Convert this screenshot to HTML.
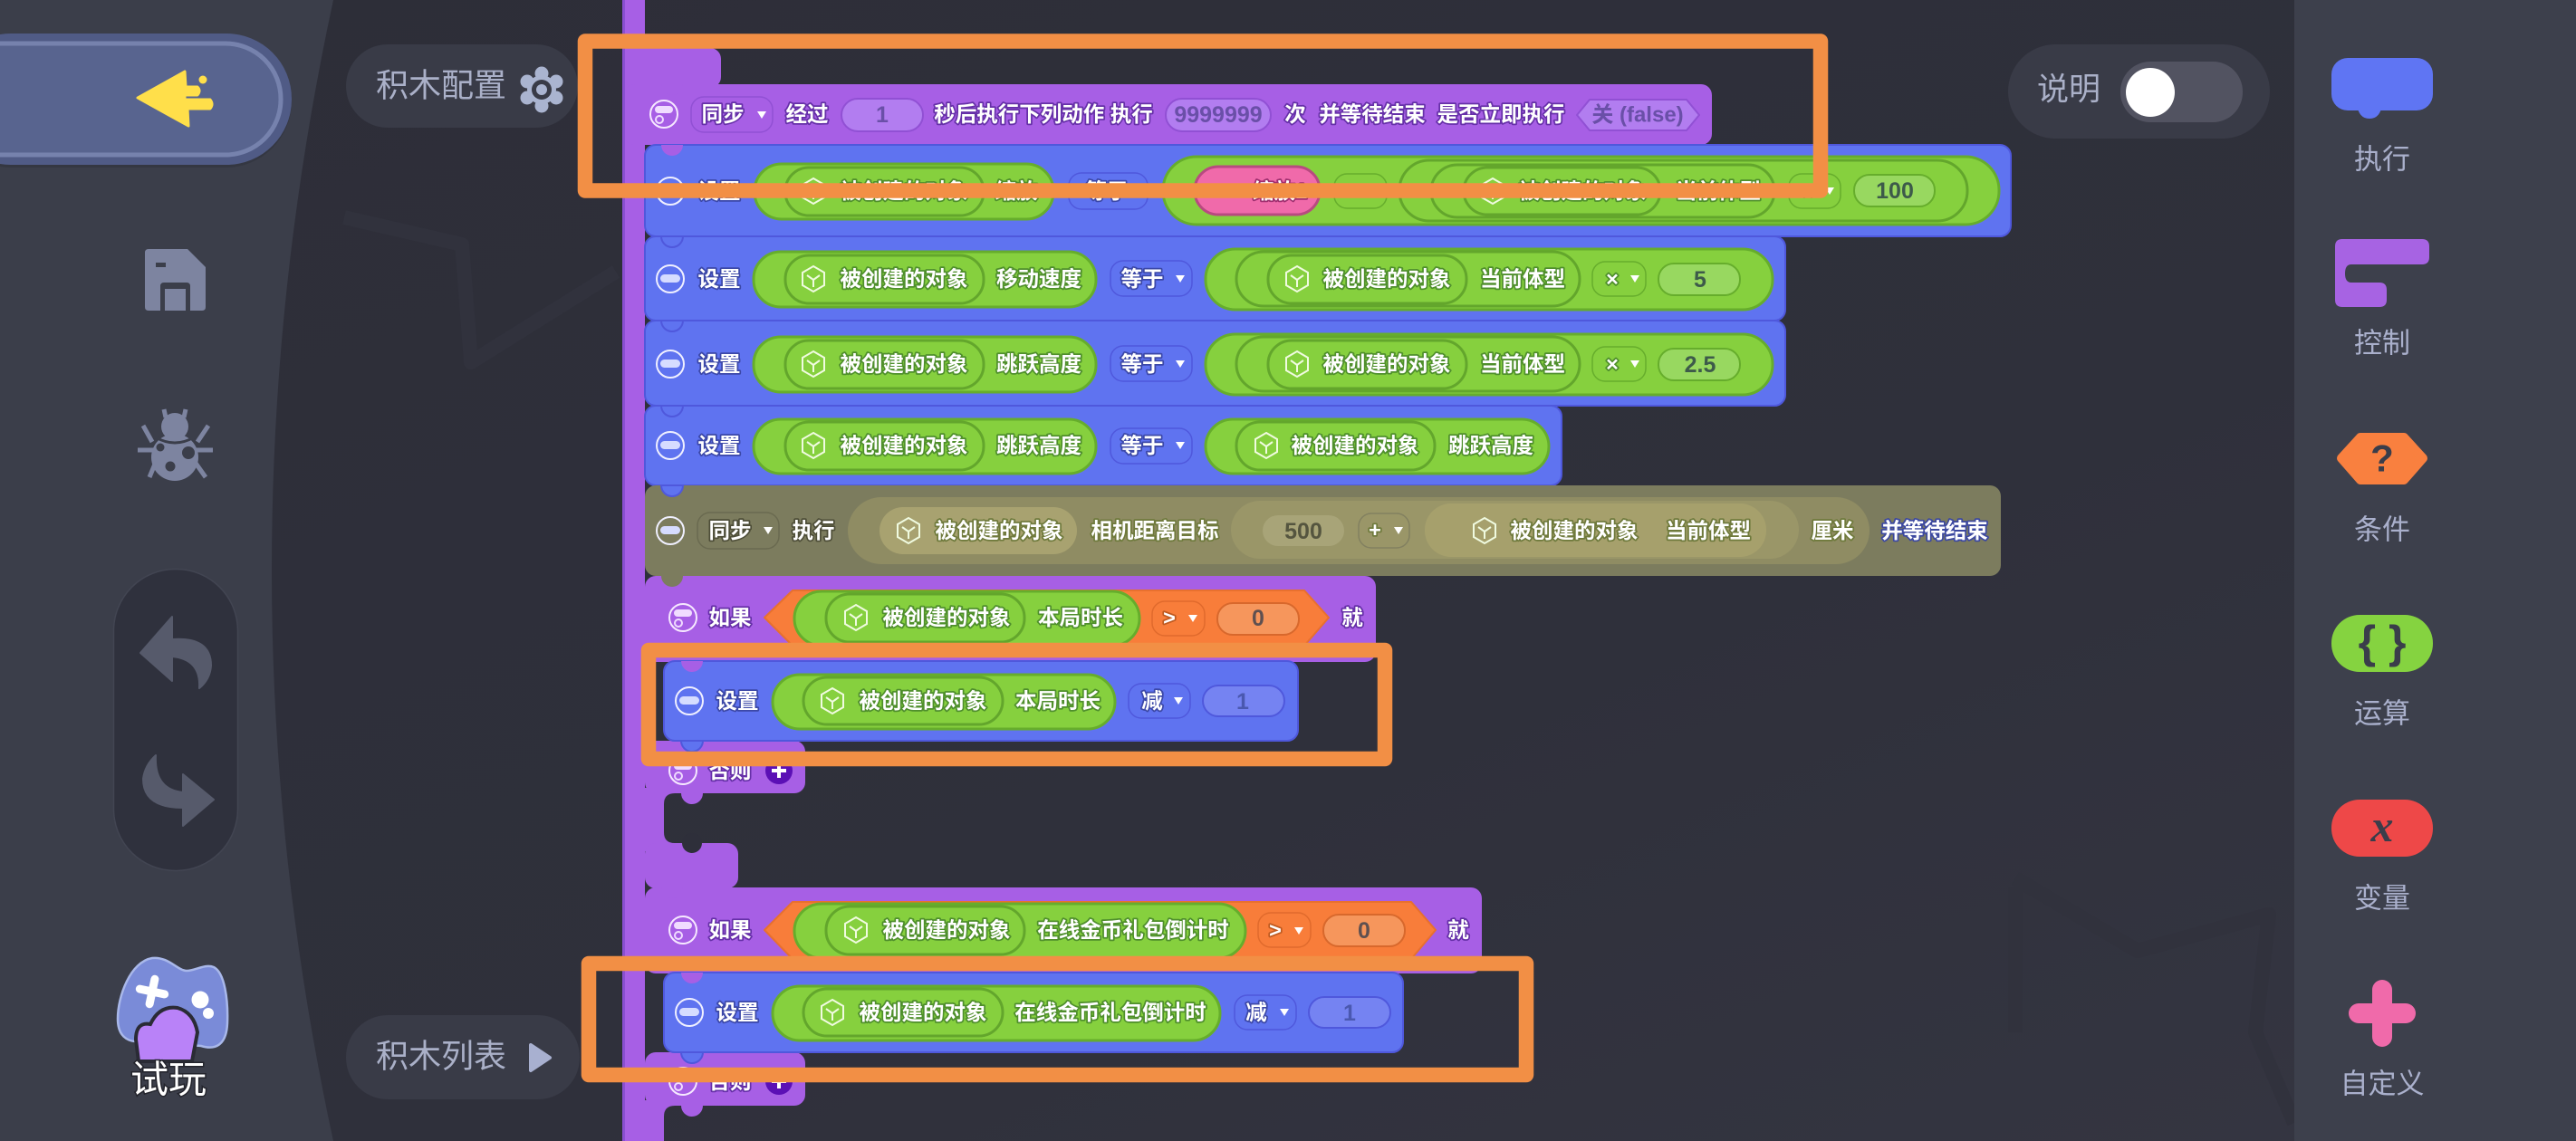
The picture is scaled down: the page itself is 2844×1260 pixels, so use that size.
<!DOCTYPE html>
<html lang="zh"><head><meta charset="utf-8"><title>积木编辑器</title>
<style>
html,body{margin:0;padding:0;width:2844px;height:1260px;overflow:hidden;background:#2e2f3a}
svg{display:block}
text{font-family:"Liberation Sans","Noto Sans CJK SC",sans-serif;text-anchor:middle;dominant-baseline:central}
.t{font-size:23.5px;font-weight:700;fill:#fff;paint-order:stroke;stroke-width:3.5px;stroke-linejoin:round}
.b{stroke:#3c48a8}.p{stroke:#6630a8}.g{stroke:#4f8f2c}.o{stroke:#6f7a3c}.ol{stroke:#4e4e38}.bo{stroke:#3c48a0}.pk{stroke:#a03070}.rd{stroke:#c05a20}
.v{font-size:25px;font-weight:700}
.ui{font-size:36px;fill:#aab0c8}
.side{font-size:31px;fill:#aab0cc}
.bl{fill:#5f73f0;stroke:#4f58dc;stroke-width:2}
.pu{fill:#a75fe5}
.gr{fill:#86d03e;stroke:#66ad2c;stroke-width:3}
.in{fill:none;stroke:#63a62c;stroke-width:3}
.dd{fill:none;stroke-width:1.5}
.box{fill:none;stroke:#f28f45;stroke-width:16.5;stroke-linejoin:round}
</style></head><body>
<svg width="2844" height="1260" viewBox="0 0 2844 1260" xmlns="http://www.w3.org/2000/svg">
<defs>
<linearGradient id="cv" x1="0" y1="0" x2="1" y2="1"><stop offset="0" stop-color="#2d2e38"/><stop offset=".6" stop-color="#2f303b"/><stop offset="1" stop-color="#353642"/></linearGradient>
<symbol id="tb" viewBox="-16 -16 32 32" overflow="visible"><circle r="15" fill="none" stroke="#f0f0ff" stroke-width="2"/><rect x="-11" y="-5" width="22" height="9" rx="4.5" fill="#d6dcff"/></symbol>
<symbol id="tp" viewBox="-16 -16 32 32" overflow="visible"><circle r="15" fill="none" stroke="#f6e8ff" stroke-width="2"/><rect x="-10" y="-9" width="20" height="8" rx="4" fill="#f0dcff"/><circle cx="-5" cy="6" r="4" fill="none" stroke="#f0dcff" stroke-width="2"/></symbol>
<symbol id="cube" viewBox="-14 -16 28 32" overflow="visible"><path d="M0-14 12-7V7L0 14-12 7V-7ZM-7-4 0 1 7-4M0 1V9" fill="none" stroke="#f0fbe0" stroke-width="2"/></symbol>
</defs>

<!-- background -->
<rect width="2844" height="1260" fill="url(#cv)"/>
<g fill="none" stroke="#31323d" stroke-width="16" stroke-linejoin="round">
<path d="M380 240 510 270 520 400 680 300"/>
<path d="M2225 980 2225 1140M2225 970 2360 1050 2505 1010 2490 1140 2533 1240"/>
</g>

<!-- left panel -->
<path d="M0 0H368Q232 630 368 1260H0Z" fill="#3b3e4a"/>
<rect x="-60" y="39" width="382" height="146" rx="73" fill="#2d2f3a" opacity=".5"/>
<rect x="-60" y="37" width="382" height="145" rx="72" fill="#505b86"/>
<rect x="-60" y="48" width="370" height="123" rx="61" fill="#58648f" stroke="#7682ad" stroke-width="5"/>
<path d="M152 108 204 79 205 96H218Q222 100 218 105H204V110H232Q236 115 232 120H207L208 139Z" fill="#ffdf4a" stroke="#ffdf4a" stroke-width="3" stroke-linejoin="round"/>
<circle cx="224" cy="88" r="4.5" fill="#ffdf4a"/>
<!-- save -->
<path d="M164 275H207L227 295V339Q227 343 223 343H210V316Q210 312 206 312H181Q177 312 177 316V343H164Q160 343 160 339V279Q160 275 164 275Z" fill="#7d84a0"/>
<rect x="182" y="319" width="23" height="24" fill="#7d84a0"/>
<rect x="172" y="290" width="11" height="5" fill="#3b3e4a"/>
<!-- bug -->
<g fill="#7d84a0" stroke="#7d84a0">
<circle cx="193" cy="471" r="15" stroke="none"/>
<path d="M181 452 183 461M205 452 203 461M158 470 168 488M230 470 218 488M152 497H172M235 497H215M165 527 172 510M227 527 215 510" stroke-width="5" fill="none"/>
<circle cx="193" cy="505" r="26" stroke="none"/>
</g>
<path d="M172 483Q193 495 214 483" stroke="#3b3e4a" stroke-width="3" fill="none"/>
<circle cx="177" cy="494" r="4.5" fill="#3b3e4a"/><circle cx="208" cy="500" r="7" fill="#3b3e4a"/><circle cx="188" cy="515" r="5.5" fill="#3b3e4a"/>
<!-- undo -->
<rect x="125.500" y="628.500" width="137" height="333" rx="68" fill="#2f313d" stroke="#424552" stroke-width="1.500"/>
<path d="M155 721 190 681V706Q233 703 233 735Q232 750 220 760Q222 728 190 725V752Z" fill="#565a6b" stroke="#565a6b" stroke-width="2" stroke-linejoin="round"/>
<path d="M236 883 202 912V892Q158 892 158 860Q160 845 172 834Q170 872 202 875V855Z" fill="#565a6b" stroke="#565a6b" stroke-width="2" stroke-linejoin="round"/>
<!-- gamepad -->
<path d="M168 1058C186 1056 196 1072 206 1072C216 1072 226 1064 236 1068C248 1074 252 1104 251 1130C250 1154 238 1160 222 1155L160 1150C145 1152 130 1148 130 1125C130 1100 144 1062 168 1058Z" fill="#7a8bd8" stroke="#a9b8ea" stroke-width="2.500"/>
<path d="M168 1081V1109M154 1095H182" stroke="#fff" stroke-width="9" stroke-linecap="round" transform="rotate(12 168 1095)"/>
<circle cx="221" cy="1104" r="9.500" fill="#fff"/><circle cx="230" cy="1119" r="6" fill="#fff"/>
<path d="M153 1172 150 1148Q150 1128 166 1131Q176 1110 196 1113Q214 1118 218 1140L212 1172Z" fill="#b982f8" stroke="#2a2b35" stroke-width="4"/>
<text x="186" y="1192" font-size="42" fill="#fff" stroke="#23242c" stroke-width="3" paint-order="stroke">试玩</text>

<!-- pills -->
<rect x="382" y="49" width="256" height="92" rx="46" fill="#393b47"/>
<text class="ui" x="487" y="94">积木配置</text>
<g fill="#aab4d0"><circle cx="598" cy="81" r="7.500"/><circle cx="614" cy="90" r="7.500"/><circle cx="614" cy="108" r="7.500"/><circle cx="598" cy="117" r="7.500"/><circle cx="582" cy="108" r="7.500"/><circle cx="582" cy="90" r="7.500"/><circle cx="598" cy="99" r="16"/></g>
<circle cx="598" cy="99" r="11" fill="#393b47"/><circle cx="598" cy="99" r="6" fill="#aab4d0"/>
<rect x="382" y="1121" width="258" height="93" rx="46" fill="#393b47"/>
<text class="ui" x="487" y="1166">积木列表</text>
<path d="M586 1154 607 1168 586 1182Z" fill="#a8b0d0" stroke="#a8b0d0" stroke-width="4" stroke-linejoin="round"/>

<!-- right panel -->
<rect x="2533" width="311" height="1260" fill="#3d404c"/>
<rect x="2217" y="49" width="289" height="104" rx="52" fill="#393b47"/>
<text class="ui" x="2284" y="99" style="font-size:35px">说明</text>
<rect x="2341" y="68" width="135" height="67" rx="33" fill="#525361"/>
<circle cx="2374" cy="102" r="27" fill="#fff"/>

<rect x="2574" y="64" width="112" height="58" rx="18" fill="#5f75f3"/>
<path d="M2603 120Q2606 131 2616 131Q2626 131 2629 120Z" fill="#5f75f3"/>
<text class="side" x="2630" y="176">执行</text>
<path d="M2578 272Q2578 264 2586 264H2674Q2682 264 2682 272V284Q2682 292 2674 292H2596Q2589 292 2589 302Q2589 312 2596 312H2627Q2635 312 2635 320V331Q2635 339 2627 339H2586Q2578 339 2578 331Z" fill="#a763e3"/>
<text class="side" x="2630" y="379">控制</text>
<path d="M2585 506 2606 483H2654L2675 506 2654 530H2606Z" fill="#f9803f" stroke="#f9803f" stroke-width="10" stroke-linejoin="round"/>
<text x="2630" y="506" font-size="42" font-weight="700" fill="#3a3d4a">?</text>
<text class="side" x="2630" y="585">条件</text>
<rect x="2574" y="679" width="112" height="63" rx="31" fill="#85d340"/>
<text x="2630" y="709" font-size="50" font-weight="700" fill="#3a3d4a">{ }</text>
<text class="side" x="2630" y="788">运算</text>
<rect x="2574" y="883" width="112" height="63" rx="31" fill="#ee4848"/>
<text x="2630" y="912" font-size="50" font-weight="700" font-style="italic" fill="#3a3d4a" style="font-family:'Liberation Serif',serif">x</text>
<text class="side" x="2630" y="992">变量</text>
<rect x="2619" y="1082" width="22" height="74" rx="11" fill="#f06aaa"/>
<rect x="2593" y="1108" width="74" height="22" rx="11" fill="#f06aaa"/>
<text class="side" x="2630" y="1197">自定义</text>

<!-- purple structure -->
<g class="pu">
<rect x="689" y="-10" width="23" height="1280"/>
<rect x="689" y="53" width="107" height="44" rx="12"/>
<rect x="689" y="93" width="1201" height="67" rx="12"/>
<rect x="712" y="636" width="807" height="95" rx="12"/>
<rect x="712" y="818" width="177" height="58" rx="12"/>
<rect x="712" y="870" width="21" height="70"/>
<rect x="712" y="931" width="103" height="50" rx="12"/>
<rect x="712" y="980" width="924" height="95" rx="12"/>
<rect x="712" y="1162" width="177" height="59" rx="12"/>
<rect x="712" y="1215" width="21" height="50"/>
<path d="M733 876H745Q733 876 733 888ZM733 931H745Q733 931 733 919ZM733 1221H745Q733 1221 733 1233Z"/>
</g>
<rect x="687" y="-10" width="3" height="1280" fill="#8a4fd0"/>
<circle cx="764" cy="931" r="11" fill="#2e2f3a"/>
<path d="M752 876a12 12 0 0 0 24 0z" fill="#a75fe5"/>
<path d="M752 1221a12 12 0 0 0 24 0z" fill="#a75fe5"/>

<!-- blue rows -->
<rect class="bl" x="712" y="160" width="1508" height="101" rx="12"/>
<rect class="bl" x="712" y="261" width="1259" height="93" rx="12"/>
<rect class="bl" x="712" y="354" width="1259" height="94" rx="12"/>
<rect class="bl" x="712" y="448" width="1012" height="88" rx="12"/>
<rect x="712" y="536" width="1497" height="100" rx="12" fill="#7c7c5e"/>
<rect class="bl" x="733" y="730" width="700" height="88" rx="12"/>
<rect class="bl" x="733" y="1074" width="816" height="88" rx="12"/>
<!-- bumps -->
<path d="M730 93a12 12 0 0 0 24 0z" fill="#a75fe5"/>
<path d="M730 160a12 12 0 0 0 24 0z" fill="#a75fe5"/>
<path d="M730 261a12 12 0 0 0 24 0z" fill="#5f73f0" stroke="#4f58dc" stroke-width="2"/>
<path d="M730 354a12 12 0 0 0 24 0z" fill="#5f73f0" stroke="#4f58dc" stroke-width="2"/>
<path d="M730 448a12 12 0 0 0 24 0z" fill="#5f73f0" stroke="#4f58dc" stroke-width="2"/>
<path d="M730 536a12 12 0 0 0 24 0z" fill="#5f73f0" stroke="#4f58dc" stroke-width="2"/>
<path d="M730 636a12 12 0 0 0 24 0z" fill="#7c7c5e"/>
<path d="M730 980a12 12 0 0 0 24 0z" fill="#a75fe5"/>
<path d="M752 730a12 12 0 0 0 24 0z" fill="#a75fe5"/>
<path d="M752 1074a12 12 0 0 0 24 0z" fill="#a75fe5"/>
<path d="M752 818a12 12 0 0 0 24 0z" fill="#5f73f0" stroke="#4f58dc" stroke-width="2"/>
<path d="M752 1162a12 12 0 0 0 24 0z" fill="#5f73f0" stroke="#4f58dc" stroke-width="2"/>

<!-- row 0 sync -->
<use href="#tp" x="717" y="110" width="32" height="32"/>
<rect class="dd" x="763" y="107" width="90" height="39" rx="14" stroke="#9150d4"/>
<text class="t p" x="798" y="126">同步</text><path d="M836 123h10l-5 8z" fill="#fff"/>
<text class="t p" x="891" y="126">经过</text>
<rect x="929" y="109" width="90" height="36" rx="18" fill="#b27df0" stroke="#9150d4" stroke-width="2"/>
<text class="v" x="974" y="127" fill="#6a4fa8">1</text>
<text class="t p" x="1152" y="126">秒后执行下列动作 执行</text>
<rect x="1287" y="109" width="116" height="36" rx="18" fill="#b27df0" stroke="#9150d4" stroke-width="2"/>
<text class="v" x="1345" y="127" fill="#6a4fa8">9999999</text>
<text class="t p" x="1430" y="126">次</text>
<text class="t p" x="1515" y="126">并等待结束</text>
<text class="t p" x="1657" y="126">是否立即执行</text>
<path d="M1741 127 1755 110H1862L1876 127 1862 144H1755Z" fill="#b27df0" stroke="#9150d4" stroke-width="2" stroke-linejoin="round"/>
<text x="1808" y="127" font-size="24" font-weight="700" fill="#6a4fa8">关 (false)</text>

<!-- row 1 -->
<use href="#tb" x="724" y="195" width="32" height="32"/>
<text class="t b" x="794" y="211">设置</text>
<rect class="gr" x="833" y="181" width="330" height="61" rx="30"/>
<rect class="in" x="867" y="185" width="219" height="53" rx="26"/>
<use href="#cube" x="884" y="195" width="28" height="32"/>
<text class="t g" x="998" y="211">被创建的对象</text>
<text class="t g" x="1122" y="211">缩放</text>
<rect class="dd" x="1180" y="191" width="87" height="40" rx="14" stroke="#4f58dc"/>
<text class="t b" x="1222" y="211">等于</text>
<rect class="gr" x="1284" y="173" width="923" height="75" rx="37"/>
<rect x="1319" y="184" width="138" height="53" rx="26" fill="#f06aaa" stroke="#b84a80" stroke-width="3"/>
<text x="1349" y="211" font-size="22" fill="#fff" font-weight="700" font-style="italic">fx</text>
<text class="t pk" x="1413" y="211">缩放1</text>
<rect class="dd" x="1473" y="192" width="58" height="38" rx="14" stroke="#66ad2c"/>
<rect class="in" x="1545" y="177" width="627" height="67" rx="33"/>
<rect class="in" x="1580" y="182" width="379" height="58" rx="29"/>
<rect class="in" x="1616" y="185" width="217" height="52" rx="26"/>
<use href="#cube" x="1634" y="195" width="28" height="32"/>
<text class="t g" x="1747" y="211">被创建的对象</text>
<text class="t g" x="1897" y="211">当前体型</text>
<rect class="dd" x="1975" y="192" width="57" height="38" rx="14" stroke="#66ad2c"/>
<text class="t g" x="1996" y="211">×</text><path d="M2015 207h10l-5 8z" fill="#fff"/>
<rect x="2047" y="193" width="89" height="35" rx="17" fill="#98d860" stroke="#66ad2c" stroke-width="2"/>
<text class="v" x="2092" y="211" fill="#3d5a4a">100</text>

<!-- row 2 -->
<use href="#tb" x="724" y="292" width="32" height="32"/>
<text class="t b" x="794" y="308">设置</text>
<rect class="gr" x="832" y="278" width="378" height="61" rx="30"/>
<rect class="in" x="867" y="282" width="219" height="53" rx="26"/>
<use href="#cube" x="884" y="292" width="28" height="32"/>
<text class="t g" x="998" y="308">被创建的对象</text>
<text class="t g" x="1147" y="308">移动速度</text>
<rect class="dd" x="1226" y="288" width="90" height="39" rx="14" stroke="#4f58dc"/>
<text class="t b" x="1261" y="308">等于</text><path d="M1298 304h10l-5 8z" fill="#fff"/>
<rect class="gr" x="1331" y="275" width="626" height="67" rx="33"/>
<rect class="in" x="1365" y="278" width="379" height="60" rx="30"/>
<rect class="in" x="1400" y="282" width="219" height="53" rx="26"/>
<use href="#cube" x="1418" y="292" width="28" height="32"/>
<text class="t g" x="1531" y="308">被创建的对象</text>
<text class="t g" x="1681" y="308">当前体型</text>
<rect class="dd" x="1758" y="289" width="59" height="38" rx="14" stroke="#66ad2c"/>
<text class="t g" x="1780" y="308">×</text><path d="M1800 304h10l-5 8z" fill="#fff"/>
<rect x="1831" y="291" width="90" height="35" rx="17" fill="#98d860" stroke="#66ad2c" stroke-width="2"/>
<text class="v" x="1877" y="309" fill="#3d5a4a">5</text>

<!-- row 3 -->
<use href="#tb" x="724" y="386" width="32" height="32"/>
<text class="t b" x="794" y="402">设置</text>
<rect class="gr" x="832" y="372" width="378" height="61" rx="30"/>
<rect class="in" x="867" y="376" width="219" height="53" rx="26"/>
<use href="#cube" x="884" y="386" width="28" height="32"/>
<text class="t g" x="998" y="402">被创建的对象</text>
<text class="t g" x="1147" y="402">跳跃高度</text>
<rect class="dd" x="1226" y="382" width="90" height="39" rx="14" stroke="#4f58dc"/>
<text class="t b" x="1261" y="402">等于</text><path d="M1298 398h10l-5 8z" fill="#fff"/>
<rect class="gr" x="1331" y="369" width="626" height="67" rx="33"/>
<rect class="in" x="1365" y="372" width="379" height="60" rx="30"/>
<rect class="in" x="1400" y="376" width="219" height="53" rx="26"/>
<use href="#cube" x="1418" y="386" width="28" height="32"/>
<text class="t g" x="1531" y="402">被创建的对象</text>
<text class="t g" x="1681" y="402">当前体型</text>
<rect class="dd" x="1758" y="383" width="59" height="38" rx="14" stroke="#66ad2c"/>
<text class="t g" x="1780" y="402">×</text><path d="M1800 398h10l-5 8z" fill="#fff"/>
<rect x="1831" y="385" width="90" height="35" rx="17" fill="#98d860" stroke="#66ad2c" stroke-width="2"/>
<text class="v" x="1877" y="403" fill="#3d5a4a">2.5</text>

<!-- row 4 -->
<use href="#tb" x="724" y="476" width="32" height="32"/>
<text class="t b" x="794" y="492">设置</text>
<rect class="gr" x="832" y="463" width="378" height="60" rx="30"/>
<rect class="in" x="867" y="466" width="219" height="53" rx="26"/>
<use href="#cube" x="884" y="476" width="28" height="32"/>
<text class="t g" x="998" y="492">被创建的对象</text>
<text class="t g" x="1147" y="492">跳跃高度</text>
<rect class="dd" x="1226" y="473" width="90" height="39" rx="14" stroke="#4f58dc"/>
<text class="t b" x="1261" y="492">等于</text><path d="M1298 488h10l-5 8z" fill="#fff"/>
<rect class="gr" x="1331" y="463" width="379" height="60" rx="30"/>
<rect class="in" x="1365" y="466" width="219" height="53" rx="26"/>
<use href="#cube" x="1384" y="476" width="28" height="32"/>
<text class="t g" x="1496" y="492">被创建的对象</text>
<text class="t g" x="1646" y="492">跳跃高度</text>

<!-- row 5 olive -->
<use href="#tb" x="724" y="570" width="32" height="32"/>
<rect class="dd" x="770" y="566" width="90" height="40" rx="14" stroke="#6a6a50"/>
<text class="t ol" x="806" y="586">同步</text><path d="M843 582h10l-5 8z" fill="#fff"/>
<text class="t ol" x="898" y="586">执行</text>
<rect x="936" y="549" width="1128" height="74" rx="37" fill="#8f8c63"/>
<rect x="971" y="560" width="218" height="52" rx="26" fill="#a8a270"/>
<use href="#cube" x="989" y="570" width="28" height="32"/>
<text class="t o" x="1103" y="586">被创建的对象</text>
<text class="t o" x="1275" y="586">相机距离目标</text>
<rect x="1359" y="553" width="627" height="64" rx="32" fill="#9a9668"/>
<rect x="1394" y="569" width="90" height="34" rx="17" fill="#a8a478"/>
<text class="v" x="1439" y="587" fill="#55553f">500</text>
<rect class="dd" x="1500" y="567" width="56" height="38" rx="14" stroke="#828060"/>
<text class="t o" x="1518" y="585">+</text><path d="M1539 582h10l-5 8z" fill="#fff"/>
<rect x="1573" y="556" width="377" height="59" rx="29" fill="#a6a06c"/>
<use href="#cube" x="1625" y="570" width="28" height="32"/>
<text class="t o" x="1738" y="586">被创建的对象</text>
<text class="t o" x="1886" y="586">当前体型</text>
<text class="t o" x="2023" y="586">厘米</text>
<text class="t bo" x="2136" y="586">并等待结束</text>

<!-- if 1 -->
<use href="#tp" x="738" y="666" width="32" height="32"/>
<text class="t p" x="806" y="682">如果</text>
<path d="M844 682 875 652H1440L1467 682 1440 713H875Z" fill="#f87d3a" stroke="#e8702e" stroke-width="2" stroke-linejoin="round"/>
<rect class="gr" x="877" y="653" width="381" height="60" rx="30"/>
<rect class="in" x="912" y="656" width="219" height="53" rx="26"/>
<use href="#cube" x="931" y="666" width="28" height="32"/>
<text class="t g" x="1045" y="682">被创建的对象</text>
<text class="t g" x="1193" y="682">本局时长</text>
<rect class="dd" x="1272" y="664" width="58" height="38" rx="14" stroke="#e06a2c"/>
<text class="t rd" x="1291" y="682">&gt;</text><path d="M1312 679h10l-5 8z" fill="#fff"/>
<rect x="1344" y="666" width="90" height="35" rx="17" fill="#f6965c" stroke="#d8682c" stroke-width="2"/>
<text class="v" x="1389" y="683" fill="#5f5050">0</text>
<text class="t p" x="1493" y="682">就</text>

<!-- inner 1 -->
<use href="#tb" x="745" y="758" width="32" height="32"/>
<text class="t b" x="814" y="774">设置</text>
<rect class="gr" x="853" y="745" width="378" height="60" rx="30"/>
<rect class="in" x="887" y="748" width="220" height="52" rx="26"/>
<use href="#cube" x="905" y="758" width="28" height="32"/>
<text class="t g" x="1019" y="774">被创建的对象</text>
<text class="t g" x="1168" y="774">本局时长</text>
<rect class="dd" x="1246" y="755" width="68" height="38" rx="14" stroke="#4f58dc"/>
<text class="t b" x="1272" y="774">减</text><path d="M1296 770h10l-5 8z" fill="#fff"/>
<rect x="1328" y="757" width="90" height="34" rx="17" fill="#7583f2" stroke="#4f58dc" stroke-width="2"/>
<text class="v" x="1372" y="775" fill="#4a58b0">1</text>

<!-- else 1 -->
<use href="#tp" x="738" y="835" width="32" height="32"/>
<text class="t p" x="806" y="851">否则</text>
<circle cx="860" cy="851" r="15" fill="#5b10b5"/>
<path d="M860 843v16M852 851h16" stroke="#fff" stroke-width="4"/>

<!-- if 2 -->
<use href="#tp" x="738" y="1011" width="32" height="32"/>
<text class="t p" x="806" y="1027">如果</text>
<path d="M844 1027 875 996H1558L1585 1027 1558 1059H875Z" fill="#f87d3a" stroke="#e8702e" stroke-width="2" stroke-linejoin="round"/>
<rect class="gr" x="877" y="998" width="498" height="60" rx="30"/>
<rect class="in" x="912" y="1001" width="219" height="53" rx="26"/>
<use href="#cube" x="931" y="1011" width="28" height="32"/>
<text class="t g" x="1045" y="1027">被创建的对象</text>
<text class="t g" x="1251" y="1027">在线金币礼包倒计时</text>
<rect class="dd" x="1389" y="1008" width="58" height="38" rx="14" stroke="#e06a2c"/>
<text class="t rd" x="1408" y="1027">&gt;</text><path d="M1429 1024h10l-5 8z" fill="#fff"/>
<rect x="1461" y="1010" width="90" height="35" rx="17" fill="#f6965c" stroke="#d8682c" stroke-width="2"/>
<text class="v" x="1506" y="1028" fill="#5f5050">0</text>
<text class="t p" x="1610" y="1027">就</text>

<!-- inner 2 -->
<use href="#tb" x="745" y="1102" width="32" height="32"/>
<text class="t b" x="814" y="1118">设置</text>
<rect class="gr" x="853" y="1089" width="494" height="60" rx="30"/>
<rect class="in" x="887" y="1092" width="220" height="52" rx="26"/>
<use href="#cube" x="905" y="1102" width="28" height="32"/>
<text class="t g" x="1019" y="1118">被创建的对象</text>
<text class="t g" x="1226" y="1118">在线金币礼包倒计时</text>
<rect class="dd" x="1363" y="1099" width="68" height="38" rx="14" stroke="#4f58dc"/>
<text class="t b" x="1387" y="1118">减</text><path d="M1413 1114h10l-5 8z" fill="#fff"/>
<rect x="1445" y="1101" width="90" height="34" rx="17" fill="#7583f2" stroke="#4f58dc" stroke-width="2"/>
<text class="v" x="1490" y="1119" fill="#4a58b0">1</text>

<!-- else 2 -->
<use href="#tp" x="738" y="1178" width="32" height="32"/>
<text class="t p" x="806" y="1194">否则</text>
<circle cx="860" cy="1194" r="15" fill="#5b10b5"/>
<path d="M860 1186v16M852 1194h16" stroke="#fff" stroke-width="4"/>

<!-- orange annotation boxes -->
<rect class="box" x="646" y="45.500" width="1364" height="165"/>
<rect class="box" x="716" y="718" width="813" height="120"/>
<rect class="box" x="650" y="1064" width="1035" height="123"/>
</svg>
</body></html>
